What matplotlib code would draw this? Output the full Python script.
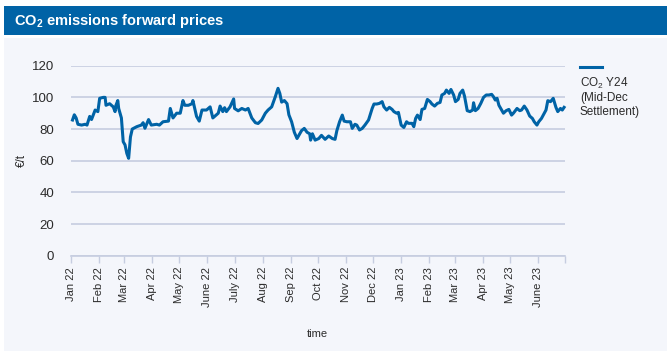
import matplotlib
matplotlib.use("Agg")
import matplotlib.pyplot as plt
from matplotlib.patches import Rectangle
from matplotlib.lines import Line2D
import pandas as pd

plt.rcParams['font.family'] = ['Liberation Sans', 'DejaVu Sans']

# CO2 Y24 forward price (Mid-Dec settlement), EUR/t
dates = [
    '2022-01-03', '2022-01-05', '2022-01-07', '2022-01-09', '2022-01-13', '2022-01-17',
    '2022-01-19', '2022-01-22', '2022-01-24', '2022-01-28', '2022-01-31', '2022-02-02',
    '2022-02-06', '2022-02-08', '2022-02-09', '2022-02-13', '2022-02-17', '2022-02-19',
    '2022-02-20', '2022-02-22', '2022-02-23', '2022-02-26', '2022-02-28', '2022-03-02',
    '2022-03-04', '2022-03-06', '2022-03-08', '2022-03-10', '2022-03-15', '2022-03-20',
    '2022-03-22', '2022-03-24', '2022-03-28', '2022-03-31', '2022-04-06', '2022-04-09',
    '2022-04-13', '2022-04-19', '2022-04-21', '2022-04-22', '2022-04-24', '2022-04-28',
    '2022-05-02', '2022-05-05', '2022-05-07', '2022-05-11', '2022-05-15', '2022-05-16',
    '2022-05-20', '2022-05-23', '2022-05-26', '2022-05-31', '2022-06-04', '2022-06-07',
    '2022-06-11', '2022-06-13', '2022-06-15', '2022-06-18', '2022-06-20', '2022-06-22',
    '2022-06-26', '2022-06-30', '2022-07-01', '2022-07-05', '2022-07-09', '2022-07-13',
    '2022-07-16', '2022-07-20', '2022-07-24', '2022-07-27', '2022-07-31', '2022-08-04',
    '2022-08-07', '2022-08-11', '2022-08-15', '2022-08-18', '2022-08-20', '2022-08-22',
    '2022-08-25', '2022-08-28', '2022-08-30', '2022-09-02', '2022-09-05', '2022-09-08',
    '2022-09-11', '2022-09-13', '2022-09-16', '2022-09-19', '2022-09-22', '2022-09-23',
    '2022-09-25', '2022-09-28', '2022-10-02', '2022-10-05', '2022-10-09', '2022-10-13',
    '2022-10-17', '2022-10-20', '2022-10-22', '2022-10-25', '2022-10-28', '2022-10-30',
    '2022-11-02', '2022-11-06', '2022-11-08', '2022-11-11', '2022-11-13', '2022-11-16',
    '2022-11-19', '2022-11-22', '2022-11-26', '2022-11-30', '2022-12-02', '2022-12-05',
    '2022-12-08', '2022-12-11', '2022-12-13', '2022-12-16', '2022-12-19', '2022-12-22',
    '2022-12-24', '2022-12-27', '2022-12-29', '2023-01-01', '2023-01-04', '2023-01-07',
    '2023-01-09', '2023-01-13', '2023-01-15', '2023-01-17', '2023-01-19', '2023-01-22',
    '2023-01-24', '2023-01-27', '2023-01-30', '2023-02-02', '2023-02-04', '2023-02-07',
    '2023-02-10', '2023-02-13', '2023-02-15', '2023-02-18', '2023-02-20', '2023-02-23',
    '2023-02-25', '2023-02-28', '2023-03-02', '2023-03-05', '2023-03-07', '2023-03-10',
    '2023-03-12', '2023-03-15', '2023-03-18', '2023-03-21', '2023-03-22', '2023-03-24',
    '2023-03-27', '2023-03-30', '2023-04-02', '2023-04-05', '2023-04-08', '2023-04-11',
    '2023-04-13', '2023-04-15', '2023-04-17', '2023-04-19', '2023-04-21', '2023-04-24',
    '2023-04-27', '2023-04-30', '2023-05-03', '2023-05-05', '2023-05-09', '2023-05-12',
    '2023-05-14', '2023-05-17', '2023-05-20', '2023-05-23', '2023-05-26', '2023-05-28',
    '2023-05-31', '2023-06-02', '2023-06-05', '2023-06-07', '2023-06-10', '2023-06-12',
    '2023-06-15', '2023-06-18', '2023-06-21', '2023-06-23', '2023-06-26', '2023-06-28',
    '2023-06-30',
]
prices = [
    85.7, 89.0, 87.0, 83.0, 82.5, 83.0,
    82.5, 88.0, 86.0, 92.0, 91.0, 99.4,
    100.0, 100.0, 95.0, 96.0, 94.0, 91.0,
    95.0, 98.0, 93.0, 87.0, 72.0, 70.0,
    64.6, 61.5, 75.0, 80.0, 81.5, 82.5,
    84.0, 80.5, 86.0, 82.5, 83.0, 82.5,
    84.6, 85.0, 93.0, 91.0, 87.0, 90.0,
    90.0, 98.0, 95.0, 95.0, 96.0, 98.0,
    88.0, 85.0, 92.0, 92.0, 94.0, 87.0,
    89.0, 90.0, 94.5, 91.0, 93.5, 91.0,
    94.0, 99.0, 93.0, 91.5, 93.0, 92.0,
    93.0, 87.0, 84.0, 83.5, 85.7, 90.0,
    92.0, 94.0, 100.4, 105.7, 102.5, 97.0,
    98.0, 96.0, 89.0, 84.6, 78.0, 74.0,
    77.0, 79.0, 80.4, 78.0, 77.0, 73.0,
    77.0, 73.0, 74.0, 76.0, 73.5, 75.6,
    74.0, 73.5, 79.0, 84.6, 88.8, 85.0,
    84.6, 84.6, 80.4, 83.0, 82.5, 79.4,
    80.4, 82.5, 85.7, 93.0, 95.8, 95.8,
    96.2, 97.3, 94.0, 92.0, 93.7, 92.4,
    91.0, 90.0, 90.5, 82.5, 81.0, 84.6,
    83.6, 83.6, 81.5, 86.7, 88.8, 86.0,
    92.4, 93.0, 98.7, 97.3, 95.8, 94.5,
    96.2, 96.8, 101.5, 102.5, 104.6, 102.5,
    105.0, 101.5, 97.3, 98.7, 102.5, 104.6,
    100.8, 91.6, 91.0, 92.0, 96.6, 91.6,
    93.0, 96.2, 100.0, 101.5, 101.5, 101.9,
    100.4, 98.3, 99.4, 95.0, 93.0, 90.0,
    91.6, 92.4, 88.8, 90.0, 93.0, 91.6,
    92.0, 94.5, 92.0, 88.2, 86.7, 84.6,
    82.5, 84.6, 86.7, 88.8, 92.0, 97.9,
    97.3, 99.4, 93.7, 91.0, 93.0, 92.0,
    93.7,
]
month_labels = ['Jan 22', 'Feb 22', 'Mar 22', 'Apr 22', 'May 22', 'June 22', 'July 22',
                'Aug 22', 'Sep 22', 'Oct 22', 'Nov 22', 'Dec 22', 'Jan 23', 'Feb 23',
                'Mar 23', 'Apr 23', 'May 23', 'June 23', '']
series_label = 'CO$_\\mathregular{2}$ Y24\n(Mid-Dec\nSettlement)'

blue = '#0063a6'
panel = '#f4f6fb'
grid_col = '#c6cde0'
text_col = '#2b2b2b'

fig = plt.figure(figsize=(6.67, 3.51), dpi=100)
fig.patch.set_facecolor('white')

# panel background and title bar
fig.patches.append(Rectangle((4 / 667, 0), 1, 1 - 38 / 351, transform=fig.transFigure,
                             facecolor=panel, edgecolor='none', zorder=-10))
fig.patches.append(Rectangle((4 / 667, 1 - 35 / 351), 1, 29 / 351, transform=fig.transFigure,
                             facecolor=blue, edgecolor='none', zorder=-10))
fig.text(14 / 667, 1 - 20.5 / 351, r'CO$_\mathregular{2}$ emissions forward prices',
         color='white', fontsize=10.5, fontweight='bold', va='center', ha='left')

ax = fig.add_axes([70.7 / 667, 1 - 255.7 / 351, (565 - 70.7) / 667, 190 / 351])
ax.set_facecolor('none')

x = pd.to_datetime(dates)
ax.plot(x, prices, color=blue, lw=2.2, solid_joinstyle='round', clip_on=False, zorder=3)

ticks = pd.date_range('2022-01-01', '2023-07-01', freq='MS')
ax.set_xlim(ticks[0], ticks[-1])
ax.set_xticks(ticks)
ax.set_xticklabels(month_labels, rotation=90, fontsize=8, color=text_col)
ax.set_ylim(0, 120)
ax.set_yticks(range(0, 121, 20))
ax.tick_params(axis='y', length=0, pad=12, labelsize=9.5, labelcolor=text_col)
ax.tick_params(axis='x', length=5, width=1, color=grid_col, pad=3)
ax.grid(axis='y', color=grid_col, lw=1.2)
ax.set_axisbelow(True)
for s in ['top', 'right', 'left']:
    ax.spines[s].set_visible(False)
ax.spines['bottom'].set_color(grid_col)
ax.spines['bottom'].set_linewidth(1.2)

ax.set_ylabel('€/t', fontsize=8.5, color=text_col)
ax.yaxis.set_label_coords(-0.087, 0.5)
ax.set_xlabel('time', fontsize=8, color=text_col, labelpad=16)

# legend: key line above the series name
fig.lines.append(Line2D([580 / 667, 602 / 667], [1 - 67 / 351, 1 - 67 / 351],
                        transform=fig.transFigure, color=blue, lw=2.2))
fig.text(580 / 667, 1 - 76 / 351, series_label, fontsize=8.5, color=text_col,
         ha='left', va='top', linespacing=1.15)

fig.savefig('out.png', dpi=100, facecolor=fig.get_facecolor())
